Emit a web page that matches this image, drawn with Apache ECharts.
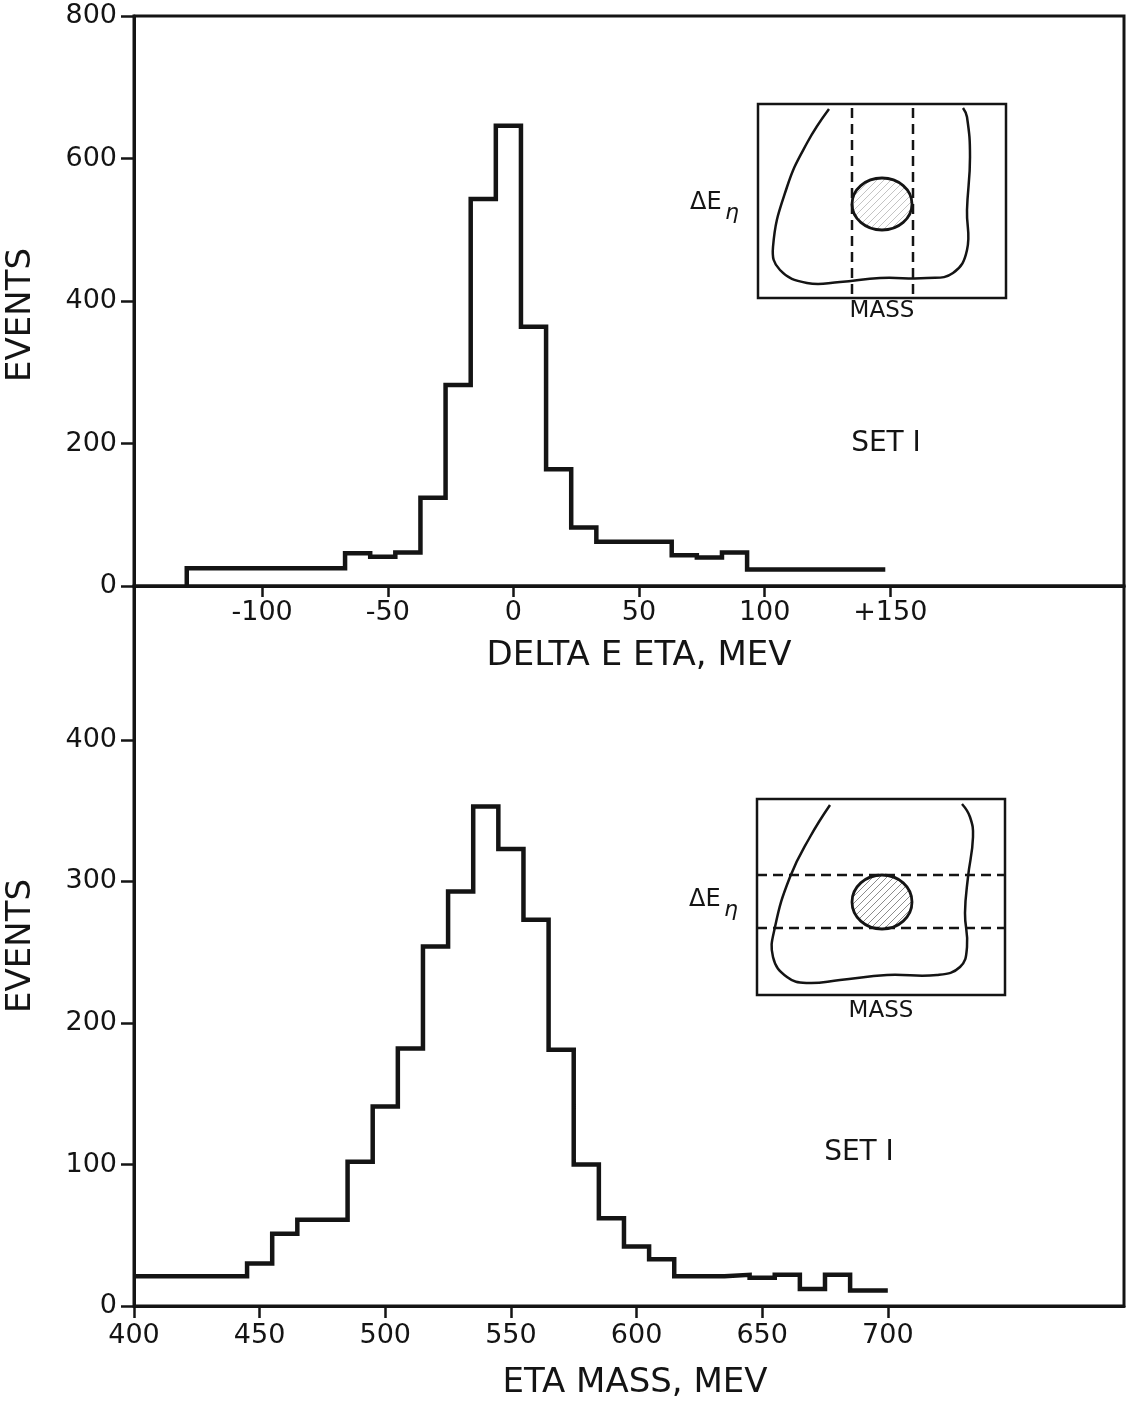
<!DOCTYPE html>
<html>
<head>
<meta charset="utf-8">
<script src="https://cdn.jsdelivr.net/npm/echarts@6/dist/echarts.min.js"></script>
<style>
  html, body { margin: 0; padding: 0; background: #ffffff; }
  #chart { width: 1127px; height: 1401px; }
</style>
</head>
<body>
<div id="chart"></div>
<script>
// Delta E (eta) distribution, SET I: bin edges in MeV and events per bin
const deltaEEdges  = [-130, -67, -57, -47, -37, -27, -17, -7, 3, 13, 23, 33, 63, 73, 83, 93, 148];
const deltaECounts = [25, 46, 41, 47, 124, 282, 543, 646, 364, 164, 82, 62, 43, 40, 47, 23];

// Eta mass distribution, SET I: bin edges in MeV and events per bin
const massEdges  = [400, 445, 455, 465, 485, 495, 505, 515, 525, 535, 545, 555, 565, 575, 585, 595, 605, 615, 635, 645, 655, 665, 675, 685, 700];
const massCounts = [21, 30, 51, 61, 102, 141, 182, 254, 293, 353, 323, 273, 181, 100, 62, 42, 33, 21, 22, 20, 22, 12, 22, 11];

// Tick values shown on each axis
const deltaETicks = [-100, -50, 0, 50, 100, 150];
const massTicks   = [400, 450, 500, 550, 600, 650, 700];
const topEventTicks    = [0, 200, 400, 600, 800];
const bottomEventTicks = [0, 100, 200, 300, 400];

const INK = '#141414';
const FONT = '"DejaVu Sans", "Noto Sans", sans-serif';

// Turn bin edges + counts into the stepped outline of a histogram
function outline(edges, counts, riseFromZero) {
  const pts = [];
  if (riseFromZero) pts.push([edges[0], 0]);
  counts.forEach((c, i) => {
    pts.push([edges[i], c]);
    pts.push([edges[i + 1], c]);
  });
  return pts;
}

// Hatch fill for the shaded signal blobs in the small sketches
function hatch(color, step) {
  const c = document.createElement('canvas');
  c.width = step; c.height = step;
  const g = c.getContext('2d');
  g.strokeStyle = color;
  g.lineWidth = 1;
  g.beginPath();
  g.moveTo(0, step); g.lineTo(step, 0);
  g.moveTo(-step / 2, step / 2); g.lineTo(step / 2, -step / 2);
  g.moveTo(step / 2, step * 1.5); g.lineTo(step * 1.5, step / 2);
  g.stroke();
  return { image: c, repeat: 'repeat' };
}

const axisLine = { show: true, onZero: false, lineStyle: { color: INK, width: 3 } };
const labelStyle = { color: INK, fontSize: 27, fontFamily: FONT };
const nameStyle = { color: INK, fontSize: 34, fontFamily: FONT };

const chart = echarts.init(document.getElementById('chart'), null, { renderer: 'canvas' });

// Small sketch: contour of the Delta E vs mass scatter with the cut band
function sketch(box, contour, blob, dashes, massY, labelY) {
  const els = [
    { type: 'rect', shape: box, style: { fill: 'none', stroke: INK, lineWidth: 2.5 } },
    { type: 'polyline', shape: { points: contour, smooth: 0.45 }, style: { fill: 'none', stroke: INK, lineWidth: 2.5 } },
    { type: 'ellipse', shape: blob.shape, style: { fill: blob.fill, stroke: INK, lineWidth: 2.8 } }
  ];
  dashes.forEach(d => els.push({
    type: 'line', shape: d, style: { stroke: INK, lineWidth: 2.5, lineDash: [10, 6] }
  }));
  els.push({ type: 'text', style: { text: 'MASS', x: box.x + box.width / 2, y: massY, align: 'center', verticalAlign: 'middle', font: '23px ' + FONT, fill: INK } });
  els.push({ type: 'text', style: { text: 'ΔE', x: box.x - 68, y: labelY, align: 'left', verticalAlign: 'middle', font: '24px ' + FONT, fill: INK } });
  els.push({ type: 'text', style: { text: 'η', x: box.x - 33, y: labelY + 10, align: 'left', verticalAlign: 'middle', font: 'italic 22px ' + FONT, fill: INK } });
  return { type: 'group', silent: true, children: els };
}

const topSketch = sketch(
  { x: 758, y: 104, width: 248, height: 194 },
  [[829, 109], [807, 143], [787, 187], [773, 247], [780, 270], [807, 283], [840, 282],
   [880, 278], [927, 278], [953, 273], [967, 250], [967, 210], [970, 157], [967, 117], [963, 108]],
  { shape: { cx: 882, cy: 204, rx: 30, ry: 26 }, fill: hatch('#c4c4c4', 7) },
  [{ x1: 852, y1: 108, x2: 852, y2: 297 }, { x1: 913, y1: 108, x2: 913, y2: 297 }],
  311, 203
);

const bottomSketch = sketch(
  { x: 757, y: 799, width: 248, height: 196 },
  [[830, 805], [810, 837], [790, 877], [775, 927], [773, 957], [787, 977], [807, 983], [840, 980],
   [887, 975], [937, 975], [960, 967], [967, 947], [965, 913], [968, 877], [973, 837], [970, 817], [962, 804]],
  { shape: { cx: 882, cy: 902, rx: 30, ry: 27 }, fill: hatch('#8c8c8c', 7) },
  [{ x1: 757, y1: 875, x2: 1005, y2: 875 }, { x1: 757, y1: 928, x2: 1005, y2: 928 }],
  1011, 900
);

const option = {
  backgroundColor: '#ffffff',
  animation: false,
  grid: [
    { left: 134, right: 3, top: 16, height: 570, show: true, borderColor: INK, borderWidth: 3, outerBoundsMode: 'none' },
    { left: 134, right: 3, top: 586, height: 720, show: true, borderColor: INK, borderWidth: 3, outerBoundsMode: 'none' }
  ],
  xAxis: [
    {
      type: 'value', gridIndex: 0, min: -151, max: 243,
      axisLine: axisLine,
      axisTick: { show: true, inside: false, length: 11, customValues: deltaETicks, lineStyle: { color: INK, width: 2.5 } },
      axisLabel: { show: true, margin: 13, customValues: deltaETicks, formatter: v => (v === 150 ? '+150' : String(v)), ...labelStyle },
      splitLine: { show: false },
      name: 'DELTA E ETA, MEV', nameLocation: 'middle', nameGap: 53,
      nameTextStyle: { ...nameStyle, padding: [0, 0, 0, 20] }
    },
    {
      type: 'value', gridIndex: 1, min: 400, max: 794,
      axisLine: axisLine,
      axisTick: { show: true, inside: false, length: 12, customValues: massTicks, lineStyle: { color: INK, width: 2.5 } },
      axisLabel: { show: true, margin: 16, customValues: massTicks, ...labelStyle },
      splitLine: { show: false },
      name: 'ETA MASS, MEV', nameLocation: 'middle', nameGap: 60,
      nameTextStyle: { ...nameStyle, padding: [0, 0, 0, 12] }
    }
  ],
  yAxis: [
    {
      type: 'value', gridIndex: 0, min: 0, max: 800, interval: 200,
      axisLine: axisLine,
      axisTick: { show: true, inside: false, length: 13, customValues: topEventTicks, lineStyle: { color: INK, width: 2.5 } },
      axisLabel: { show: true, margin: 17, customValues: topEventTicks, ...labelStyle },
      splitLine: { show: false },
      name: 'EVENTS', nameLocation: 'middle', nameRotate: 90, nameGap: 96,
      nameTextStyle: { ...nameStyle, padding: [0, 28, 0, 0] }
    },
    {
      type: 'value', gridIndex: 1, min: 0, max: 508.8,
      axisLine: axisLine,
      axisTick: { show: true, inside: false, length: 13, customValues: bottomEventTicks, lineStyle: { color: INK, width: 2.5 } },
      axisLabel: { show: true, margin: 17, customValues: bottomEventTicks, ...labelStyle },
      splitLine: { show: false },
      name: 'EVENTS', nameLocation: 'middle', nameRotate: 90, nameGap: 96,
      nameTextStyle: { ...nameStyle, padding: [0, 0, 0, 0] }
    }
  ],
  series: [
    {
      name: 'Delta E eta', type: 'line', xAxisIndex: 0, yAxisIndex: 0,
      data: outline(deltaEEdges, deltaECounts, true),
      showSymbol: false, silent: true,
      lineStyle: { color: INK, width: 4.5, join: 'miter' }
    },
    {
      name: 'Eta mass', type: 'line', xAxisIndex: 1, yAxisIndex: 1,
      data: outline(massEdges, massCounts, false),
      showSymbol: false, silent: true,
      lineStyle: { color: INK, width: 4.5, join: 'miter' }
    }
  ],
  graphic: [
    topSketch,
    bottomSketch,
    { type: 'text', silent: true, style: { text: 'SET I', x: 886, y: 444, align: 'center', verticalAlign: 'middle', font: '28px ' + FONT, fill: INK } },
    { type: 'text', silent: true, style: { text: 'SET I', x: 859, y: 1153, align: 'center', verticalAlign: 'middle', font: '28px ' + FONT, fill: INK } }
  ]
};

chart.setOption(option);
</script>
</body>
</html>
